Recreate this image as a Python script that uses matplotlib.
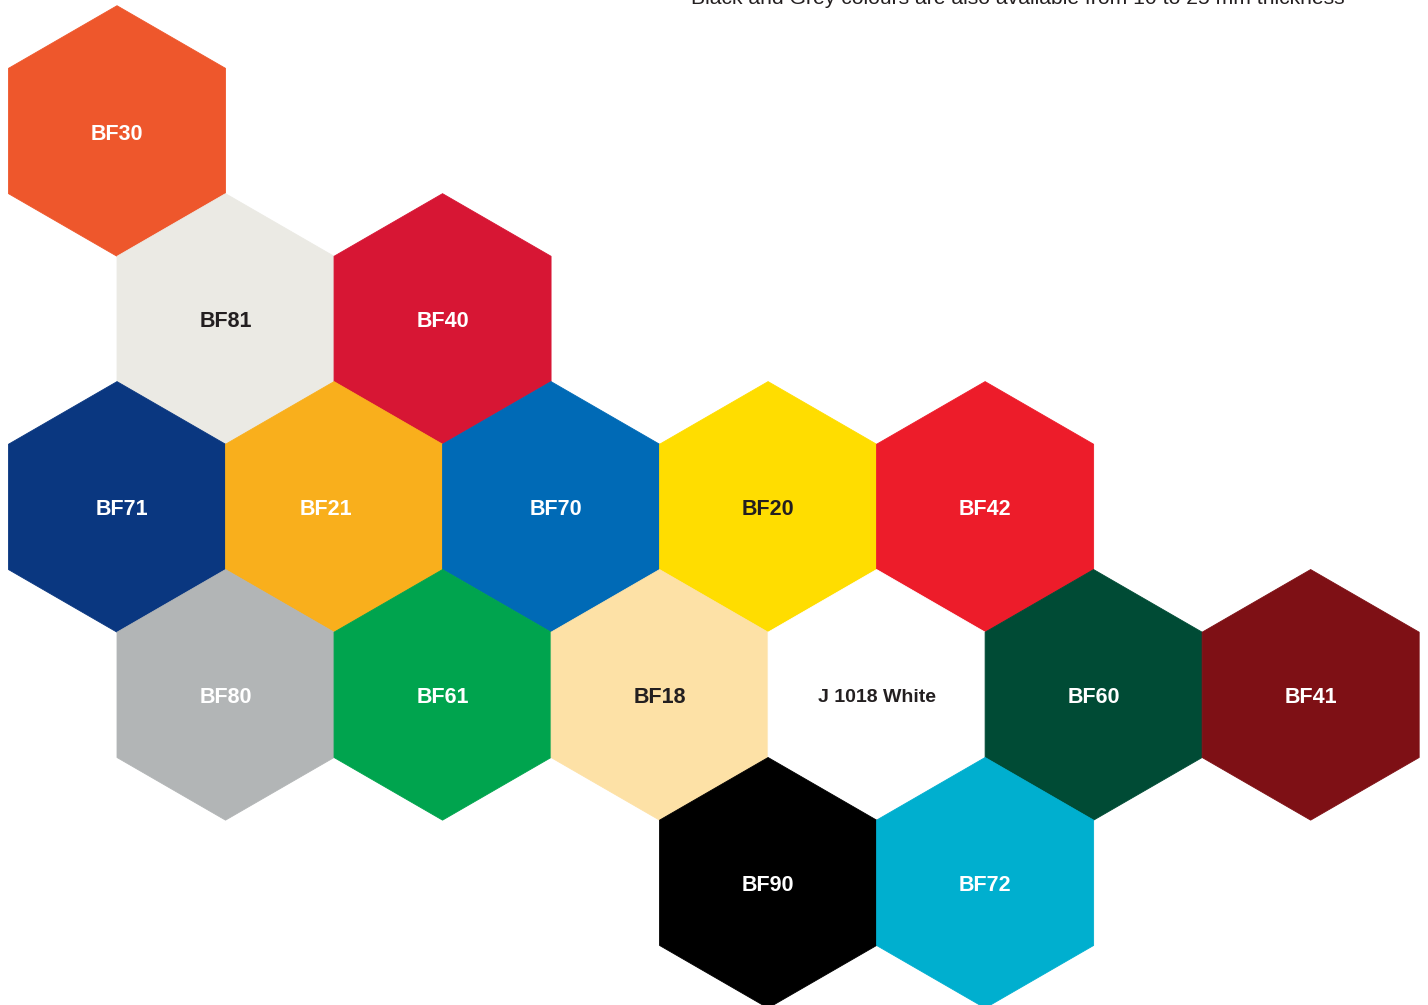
import matplotlib.pyplot as plt
from matplotlib.patches import RegularPolygon
import numpy as np

plt.rcParams['font.family'] = ['Liberation Sans', 'DejaVu Sans']

## colour codes and swatches
codes = ['BF30', 'BF81', 'BF40', 'BF71', 'BF21', 'BF70', 'BF20', 'BF42',
         'BF80', 'BF61', 'BF18', 'J 1018 White', 'BF60', 'BF41', 'BF90', 'BF72']
fills = ['#EE572C', '#EBEAE4', '#D71634', '#0A3780', '#F9AF1C', '#006AB6', '#FFDD00', '#ED1C2A',
         '#B2B5B6', '#00A44E', '#FDE1A6', '#FFFFFF', '#004B35', '#7E1015', '#000000', '#00AFCF']
dark_text = ['BF81', 'BF20', 'BF18', 'J 1018 White']
note = 'Black and Grey colours are also available from 10 to 25 mm thickness'

# honeycomb cell of each swatch (row, column in half-widths)
rows = [0, 1, 1, 2, 2, 2, 2, 2, 3, 3, 3, 3, 3, 3, 4, 4]
cols = [1, 2, 4, 1, 3, 5, 7, 9, 2, 4, 6, 8, 10, 12, 7, 9]
# labels that sit a bit off-centre in the original artwork
nudge = {'BF71': 5, 'BF21': -8, 'BF70': 5}

R = 125.3
half_w = np.sqrt(3) * R / 2
x0, y0 = 8.5, 131

fig = plt.figure(figsize=(14.28, 10.05), dpi=100)
ax = fig.add_axes([0, 0, 1, 1])
ax.set_xlim(0, 1428)
ax.set_ylim(1005, 0)
ax.set_aspect('equal')
ax.axis('off')

for code, fc, r, c in zip(codes, fills, rows, cols):
    cx = x0 + c * half_w
    cy = y0 + r * 1.5 * R
    ax.add_patch(RegularPolygon((cx, cy), numVertices=6, radius=R, orientation=0,
                                facecolor=fc, edgecolor=fc, lw=0.6))
    tc = '#231F20' if code in dark_text else 'white'
    fs = 14 if code == 'J 1018 White' else 15.5
    ax.text(cx + nudge.get(code, 0), cy + 3, code, ha='center', va='center',
            color=tc, fontsize=fs, fontweight='bold')

ax.text(1345, 3.5, note, ha='right', va='baseline', fontsize=15.2, color='#231F20')

fig.savefig('out.png', dpi=100)
